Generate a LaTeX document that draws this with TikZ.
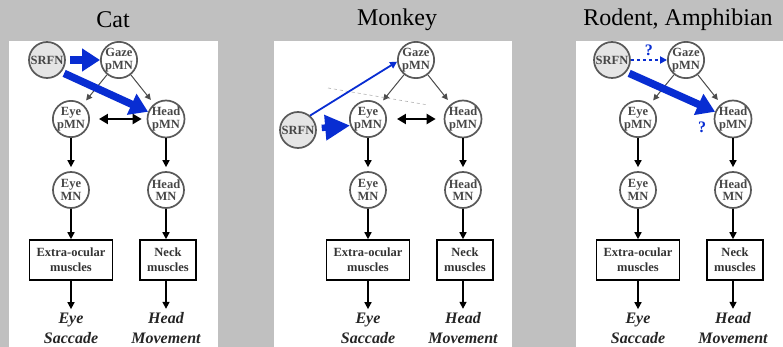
\documentclass[tikz,border=0pt]{standalone}
\usepackage{fontspec}
\setmainfont{Liberation Serif}
\usepackage{xcolor}
\usepackage{tikz}
\usetikzlibrary{arrows.meta,positioning,calc}

\definecolor{pathblue}{RGB}{8,45,210}
\definecolor{bggray}{RGB}{192,192,192}

\begin{document}
\begin{tikzpicture}[x=1pt,y=-1pt,
      neuron/.style={circle,draw=black!65,line width=1.7pt,minimum size=36pt,inner sep=0pt,
        font=\fontsize{12.5}{12.5}\selectfont\bfseries,text=black!72,align=center},
      srfn/.style={neuron,fill=black!10},
      muscle/.style={draw=black,line width=1.6pt,minimum height=40pt,inner sep=0pt,
        font=\fontsize{12.5}{15}\selectfont\bfseries,text=black!80,align=center},
      behav/.style={font=\fontsize{16}{20}\selectfont\bfseries\itshape,align=center,text=black!85},
      species/.style={font=\fontsize{24}{24}\selectfont},
      proj/.style={draw=black!70,line width=1pt,-{Triangle[length=6pt,width=6pt]},shorten >=5pt},
      down/.style={draw=black,line width=1.5pt,-{Triangle[length=7pt,width=7pt]}},
      link/.style={draw=black,line width=2.5pt,{Triangle[length=9pt,width=10pt]}-{Triangle[length=9pt,width=10pt]},
        shorten <=9pt,shorten >=5pt},
      fast/.style={draw=pathblue,line width=7.5pt,-{Triangle[length=18pt,width=22pt]}},
      slow/.style={draw=pathblue,line width=1.8pt,-{Triangle[length=7pt,width=7pt]}},
      query/.style={text=pathblue,font=\fontsize{16}{16}\selectfont\bfseries}]
    \useasboundingbox (0,0) rectangle (783,347);
    \fill[bggray] (0,0) rectangle (783,347);
    \foreach \xa/\xb in {9/218,274/512,576/783} {
      \fill[white] (\xa,41) rectangle (\xb,347);
    }
    \node[species] (cat) at (113,20) {Cat};
    \node[species] (monkey) at (397,20) {Monkey};
    \node[species] (rodent) at (678,20) {Rodent, Amphibian};
    \foreach \sx/\nm in {0/c,297/m,567/r} {
      \begin{scope}[shift={(\sx,0)},name prefix=\nm-]
        \node[neuron] (gaze) at (119,60) {Gaze\\pMN};
        \node[neuron] (eyep) at (71,119) {Eye\\pMN};
        \node[neuron] (headp) at (166,119) {Head\\pMN};
        \node[neuron] (eyem) at (71,190) {Eye\\MN};
        \node[neuron] (headm) at (166,190) {Head\\MN};
        \node[muscle,minimum width=83pt] (eyemus) at (71,260) {Extra-ocular\\muscles};
        \node[muscle,minimum width=56pt] (neckmus) at (168,260) {Neck\\muscles};
        \node[behav] (sacc) at (71,328) {Eye\\Saccade};
        \node[behav] (move) at (166,328) {Head\\Movement};
        \draw[proj] (gaze) -- (eyep);
        \draw[proj] (gaze) -- (headp);
        \draw[down,shorten >=4pt] (eyep) -- (eyem);
        \draw[down,shorten >=4pt] (headp) -- (headm);
        \draw[down] (eyem) -- (eyemus);
        \draw[down] (headm) -- (headm |- neckmus.north);
        \draw[down] (eyemus) -- (sacc);
        \draw[down] (headm |- neckmus.south) -- (move);
      \end{scope}
    }
    % cat
    \node[srfn] (c-srfn) at (47,60) {SRFN};
    \draw[fast,shorten <=4pt] (c-srfn) -- (c-gaze);
    \draw[fast,shorten <=3pt] (c-srfn.-40) -- (c-headp.158);
    \draw[link] (c-eyep) -- (c-headp);
    % monkey
    \node[srfn] (m-srfn) at (298,130) {SRFN};
    \coordinate (m-cut1) at (328,88);
    \coordinate (m-cut2) at (428,105);
    \draw[gray!60,dashed,line width=0.6pt] (m-cut1) -- (m-cut2);
    \draw[slow] (m-srfn.50) -- (m-gaze.185);
    \draw[fast,line width=6.5pt,-{Triangle[length=25pt,width=24pt]},shorten <=5pt] (m-srfn) -- (m-eyep.200);
    \draw[link,shorten <=10pt,shorten >=8pt] (m-eyep) -- (m-headp);
    % rodent, amphibian
    \node[srfn] (r-srfn) at (612,60) {SRFN};
    \draw[slow,dashed] (r-srfn) -- (r-gaze) node[query,midway,above=0pt] (r-q1) {?};
    \draw[fast,shorten <=3pt] (r-srfn.-40) -- (r-headp.158);
    \node[query] (r-q2) at (702,127) {?};
  \end{tikzpicture}
\end{document}
